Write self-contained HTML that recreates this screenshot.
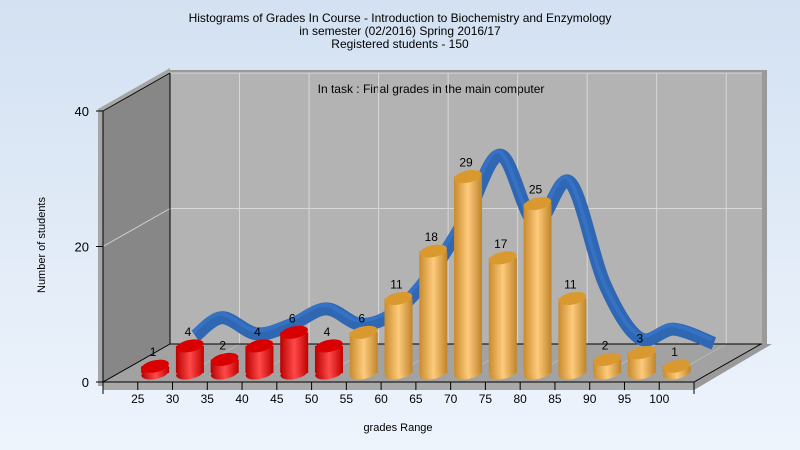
<!DOCTYPE html>
<html><head><meta charset="utf-8">
<style>
html,body{margin:0;padding:0;width:800px;height:450px;overflow:hidden;}
svg{display:block;font-family:"Liberation Sans",Arial,sans-serif;}
</style></head>
<body>
<svg id="chart" width="800" height="450" viewBox="0 0 800 450">
<defs>
<linearGradient id="bg" x1="0" y1="0" x2="0" y2="1"><stop offset="0" stop-color="#d3e1f2"/><stop offset="1" stop-color="#eef4fc"/></linearGradient>
<linearGradient id="redG" x1="0" y1="0" x2="1" y2="0"><stop offset="0" stop-color="#b80000"/><stop offset="0.5" stop-color="#ff4a4a"/><stop offset="1" stop-color="#c00000"/></linearGradient>
<linearGradient id="orgG" x1="0" y1="0" x2="1" y2="0"><stop offset="0" stop-color="#c98a2c"/><stop offset="0.5" stop-color="#fdcb7c"/><stop offset="1" stop-color="#c0842a"/></linearGradient>
</defs>
<rect x="0" y="0" width="800" height="450" fill="url(#bg)"/>
<text x="400" y="22" font-size="12" text-anchor="middle" fill="#000">Histograms of Grades  In Course - Introduction to Biochemistry and Enzymology</text>
<text x="400" y="35" font-size="12" text-anchor="middle" fill="#000">in semester  (02/2016) Spring 2016/17</text>
<text x="400" y="48" font-size="12" text-anchor="middle" fill="#000">Registered students - 150</text>
<g id="plot">
<polygon points="170,70 767,70 767,344 762,344 762,73 170,73" fill="#9a9a9a"/>
<polygon points="98,109 170,68 170,73 103,111 103,386 98,386" fill="#a6a6a6"/>
<rect x="170" y="73" width="592" height="271" fill="#b3b3b3"/>
<polygon points="103,111 170,73 170,344 103,382" fill="#878787"/>
<polygon points="103,382 694,382 761,344 170,344" fill="#a2a2a2"/>
<polygon points="103,382 694,382 694,390 103,390" fill="#a9a9a9"/>
<polygon points="694,382 761,344 772,344 694,390" fill="#9a9a9a"/>
</g>
<text x="431" y="93" font-size="12" text-anchor="middle" fill="#000">In task : Final grades in the main computer</text>
<text x="0" y="0" font-size="11" text-anchor="middle" transform="translate(45,245) rotate(-90)">Number of students</text>
<text x="398" y="431" font-size="11" text-anchor="middle">grades Range</text>
</svg>
<script>
const categories=["25","30","35","40","45","50","55","60","65","70","75","80","85","90","95","100"];
const counts=[1,4,2,4,6,4,6,11,18,29,17,25,11,2,3,1];
const ribbonValues=[0.3,3,0.6,2,4.3,2,3.9,9.5,17.6,27,17,23,8,0,1.3,-0.8];
const yTicks=[0,20,40];
const redCount=6;

const svg=document.getElementById('chart');
const NS='http://www.w3.org/2000/svg';
const X0=103,X1=694,DX=67,DY=-38,Y0=382,UNIT=271/40,N=categories.length;
const step=(X1-X0)/(N+1);
function yFront(v){return Y0-v*UNIT;}
function tickX(i){return X0+step*(i+1);}
function barX(i){return X0+step*(i+1.5);}
function backX(i){return X0+DX+step*(i+0.5);}
function mk(tag,attrs,parent){const e=document.createElementNS(NS,tag);for(const k in attrs)e.setAttribute(k,attrs[k]);(parent||svg).appendChild(e);return e;}

// grid lines
const grid=mk('g',{});


for(let k=1;k<=8;k++){const x=X0+DX+step*2*k;if(x>761)break;
 const l=mk('line',{x1:x,y1:73,x2:x,y2:344,stroke:'#d8d8d8','stroke-width':1},grid);
 
 
 const f=mk('line',{x1:x-DX*0.9,y1:344-DY*0.9,x2:x,y2:344,stroke:'#b8b8b8','stroke-width':1},grid);
 
 }
yTicks.forEach(t=>{if(t===0)return;const y=yFront(t);
 const h=mk('line',{x1:X0+DX,y1:y+DY,x2:762,y2:y+DY,stroke:'#d8d8d8'},grid);
 
 
 const s=mk('line',{x1:X0,y1:y,x2:X0+DX,y2:y+DY,stroke:'#d0d0d0'},grid);
 
 });

// axes lines
const ax=mk('g',{stroke:'#000','stroke-width':1,fill:'none'});


mk('polyline',{points:`${X0+DX},73 ${X0+DX},344 762,344`},ax);
mk('line',{x1:X0,y1:Y0,x2:X0+DX,y2:344},ax);
mk('line',{x1:X0,y1:111,x2:X0+DX,y2:73},ax);
mk('line',{x1:X0,y1:111,x2:X0,y2:Y0},ax);
mk('line',{x1:X0,y1:Y0,x2:X1,y2:Y0},ax);
mk('line',{x1:X1,y1:Y0,x2:X1+DX,y2:344},ax);
yTicks.forEach(t=>{const y=yFront(t);
 mk('line',{x1:96,y1:y,x2:X0,y2:y},ax);
 const tx=mk('text',{x:89,y:y+5,'font-size':13,'text-anchor':'end',fill:'#000',stroke:'none'});
 tx.textContent=t;
 
 });
mk('line',{x1:X0,y1:Y0,x2:X0,y2:Y0+12},ax);
categories.forEach((c,i)=>{const x=tickX(i);
 mk('line',{x1:x,y1:Y0,x2:x,y2:Y0+8},ax);
 const tx=mk('text',{x:x,y:403,'font-size':12,'text-anchor':'middle',fill:'#000',stroke:'none'});
 tx.textContent=c;
 
 });
mk('line',{x1:X1,y1:Y0,x2:X1,y2:Y0+12},ax);

// ribbon
const pts=ribbonValues.map((v,i)=>[backX(i)+(i===0?8:0)+(i===N-1?5:0),344+DY*0-v*UNIT-6]);
function smooth(p){let d=`M${p[0][0]},${p[0][1]}`;for(let i=0;i<p.length-1;i++){const a=p[i-1]||p[i],b=p[i],c=p[i+1],e=p[i+2]||c;
 d+=` C${b[0]+(c[0]-a[0])/6},${b[1]+(c[1]-a[1])/6} ${c[0]-(e[0]-b[0])/6},${c[1]-(e[1]-b[1])/6} ${c[0]},${c[1]}`;}return d;}
const rib=mk('path',{d:smooth(pts),fill:'none',stroke:'#2f67b3','stroke-width':13,'stroke-linejoin':'round'});


const ribH=mk('path',{d:smooth(pts.map(p=>[p[0]-2,p[1]-4])),fill:'none',stroke:'#3a7ad0','stroke-width':4,opacity:0.6});



// bars
const W=28,RY=6,BASE=373;
counts.forEach((v,i)=>{
 const cx=barX(i),top=BASE-v*UNIT,red=i<redCount;
 const g=mk('g',{});
 
 
 const fill=red?'url(#redG)':'url(#orgG)';
 mk('ellipse',{cx:cx,cy:BASE,rx:W/2,ry:RY,fill:fill,transform:`rotate(-12 ${cx} ${BASE})`},g);
 mk('rect',{x:cx-W/2,y:top,width:W,height:BASE-top,fill:fill},g);
 mk('ellipse',{cx:cx,cy:top,rx:W/2,ry:RY,fill:red?'#d80000':'#d9992f',transform:`rotate(-12 ${cx} ${top})`},g);
 const t=mk('text',{x:cx-2,y:top-10,'font-size':12,'text-anchor':'middle',fill:'#000'});
 t.textContent=v;
 
 
});
</script>
</body></html>
